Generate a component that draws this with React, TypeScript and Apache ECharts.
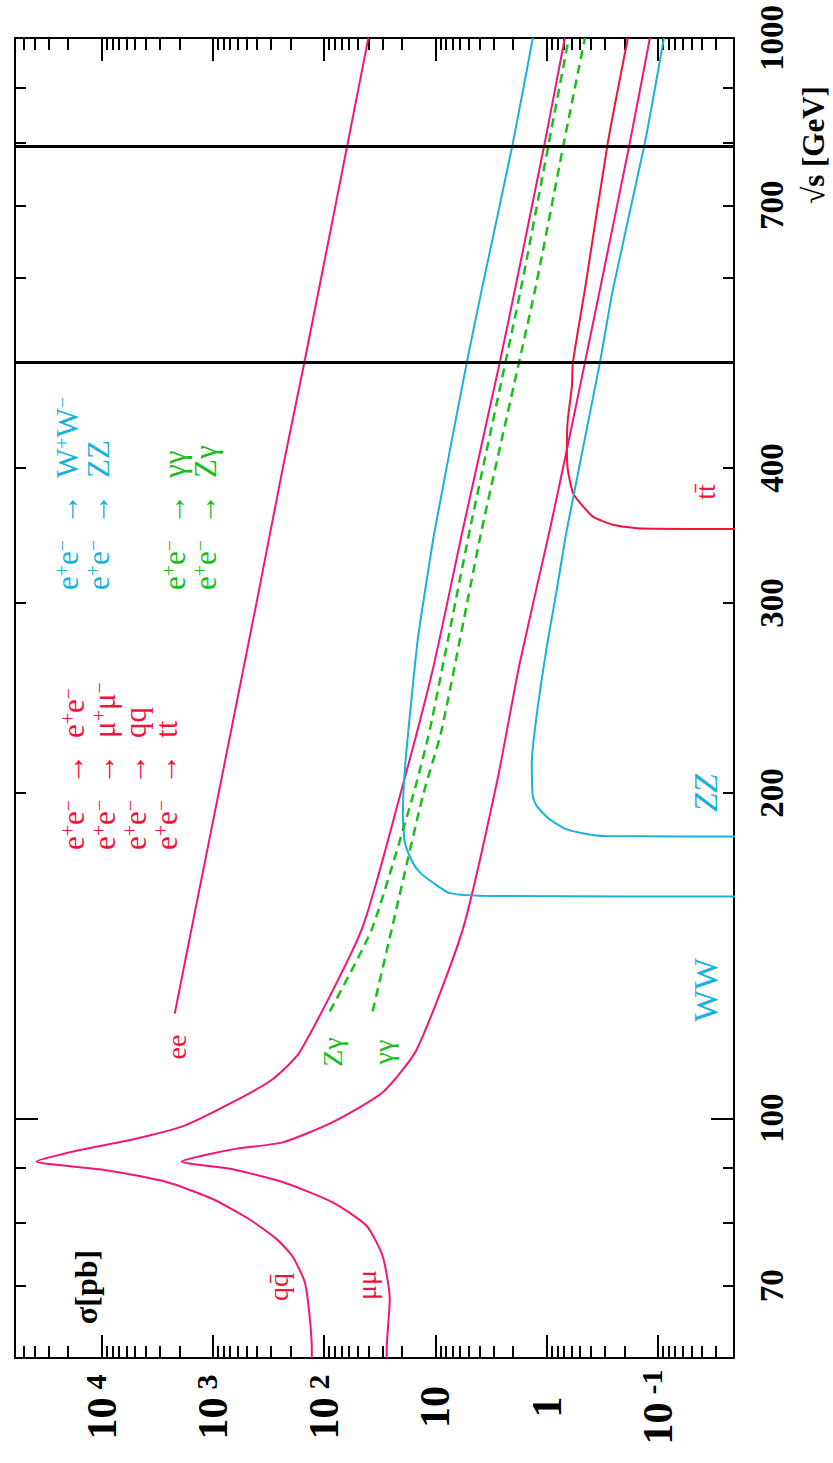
import React, { useEffect, useRef } from "react";
import * as echarts from "echarts";

// ---------- data: [√s (GeV), σ (pb)] ----------
const eeCurve: [number, number][] = [
  [125, 2200], [150, 1550], [200, 887], [300, 405], [400, 235], [500, 151], [700, 79], [1000, 40],
];
const qqCurve: [number, number][] = [
  [60, 129], [61.1, 129], [65.6, 135], [70.5, 149], [74.5, 192], [77.3, 267], [80.6, 467],
  [84.2, 1004], [87.3, 2603], [89.7, 10400], [91.2, 38400], [93.6, 14800], [95.6, 5260],
  [98.3, 1870], [103.5, 664], [108.7, 290], [115.1, 166], [149.6, 45.9], [198.6, 20.9],
  [260.3, 10.55], [350.6, 5.67], [500.6, 2.64], [597, 1.85], [799.6, 1.04], [1000, 0.686],
];
const mumuCurve: [number, number][] = [
  [60, 27.4], [61.1, 27.4], [68.0, 25.7], [74.5, 29.7], [79.5, 41.4], [83.6, 83.7], [87.3, 236],
  [89.7, 664], [91.2, 1908], [93.6, 664], [95.0, 236], [99.2, 83.7], [105.7, 29.7], [115.8, 14.7],
  [149.6, 5.67], [204.6, 2.8], [264.2, 1.74], [350.6, 0.936], [415.8, 0.658], [500.6, 0.453],
  [584.8, 0.332], [799.6, 0.179], [1000, 0.118],
];
const ttCurve: [number, number][] = [
  [351.2, 0.01], [351.6, 0.145], [354.4, 0.254], [360.6, 0.384], [371.5, 0.503], [379.5, 0.581],
  [398.5, 0.645], [418.4, 0.658], [443.2, 0.645], [475.6, 0.593], [500.6, 0.581], [584.8, 0.453],
  [799.6, 0.282], [1000, 0.186],
];
const wwCurve: [number, number][] = [
  [160.4, 0.01], [160.6, 3], [161.6, 7.4], [165.3, 10.55], [168.9, 13.8], [172.5, 15.97],
  [180, 18.8], [191.9, 19.6], [210.3, 18.8], [235.4, 17.0], [277.4, 14.4], [315.1, 11.95],
  [350.6, 10.1], [500.6, 5.22], [590.8, 3.75], [799.6, 2.01], [1000, 1.33],
];
const zzCurve: [number, number][] = [
  [182.3, 0.01], [182.5, 0.3], [183.4, 0.45], [185.1, 0.658], [189.1, 0.936], [194.4, 1.22],
  [198.6, 1.33], [213.4, 1.36], [237.4, 1.22], [273.3, 0.996], [308.6, 0.81], [350.6, 0.658],
  [500.6, 0.332], [584.8, 0.254], [799.6, 0.131], [1000, 0.0883],
];
const zgCurve: [number, number][] = [
  [125.6, 89.0], [149.6, 37.3], [198.6, 15.97], [229.1, 11.2], [350.6, 4.9], [584.8, 1.71],
  [799.6, 0.955], [1000, 0.632],
];
const ggCurve: [number, number][] = [
  [125.6, 36.6], [149.6, 24.7], [198.6, 13.0], [229.1, 8.76], [350.6, 3.83], [584.8, 1.27],
  [799.6, 0.70], [1000, 0.453],
];

// ---------- axes ----------
const sigmaRange = [0.0207, 60000]; // pb
const sqrtsRange = [60, 1000]; // GeV
const sigmaExponents = [4, 3, 2, 1, 0, -1];
const sqrtsLabels = [70, 100, 200, 300, 400, 700, 1000];
const sqrtsMajorTicks = [100, 1000];
const sqrtsMinorTicks = [70, 80, 90, 200, 300, 400, 500, 600, 700, 800, 900];
const energyLines = [500, 800];

const L = Math.log10;
const sigmaMinor: number[] = [];
for (let e = -2; e <= 4; e++) for (let k = 2; k <= 9; k++) {
  const v = k * Math.pow(10, e);
  if (v > sigmaRange[0] && v < sigmaRange[1]) sigmaMinor.push(L(v));
}

const PINK = "#f51478";
const RED = "#f0143c";
const CYAN = "#18b2dc";
const GREEN = "#16c016";
const SERIF = "'Liberation Serif', 'DejaVu Serif', serif";

const toXY = (d: [number, number][]) => d.map(([s, sig]) => [L(sig), L(s)]);

export default function App() {
  const ref = useRef<HTMLDivElement>(null);
  useEffect(() => {
    if (!ref.current) return;
    const chart = echarts.init(ref.current, undefined, { renderer: "svg" });

    const xBase = {
      type: "value" as const, min: L(sigmaRange[0]), max: L(sigmaRange[1]), inverse: true,
      splitLine: { show: false },
    };
    const yBase = {
      type: "value" as const, min: L(sqrtsRange[0]), max: L(sqrtsRange[1]),
      splitLine: { show: false },
    };
    const line = { show: true, onZero: false, lineStyle: { color: "#000", width: 2 } };
    const noLine = { show: false, onZero: false };
    const tick = (len: number, vals: number[]) => ({
      show: true, inside: true, length: len, customValues: vals, lineStyle: { color: "#000", width: 2 },
    });

    const xAxes = [
      {
        ...xBase, position: "bottom", axisLine: line, axisTick: tick(23, sigmaExponents),
        axisLabel: {
          show: true, customValues: sigmaExponents, rotate: 90, margin: 49,
          align: "center", verticalAlign: "middle",
          formatter: (v: number) => {
            const e = Math.round(v);
            if (e === 0) return "{b|1}";
            if (e === 1) return "{b|10}";
            return `{b|10}{s|${e}}`;
          },
          rich: {
            b: { fontFamily: SERIF, fontWeight: "bold", fontSize: 42, lineHeight: 42, color: "#000" },
            s: { fontFamily: SERIF, fontWeight: "bold", fontSize: 30, lineHeight: 8, verticalAlign: "top", color: "#000", padding: [0, 0, 0, 8] },
          },
        },
      },
      { ...xBase, position: "bottom", axisLine: noLine, axisLabel: { show: false }, axisTick: tick(12, sigmaMinor) },
      { ...xBase, position: "top", axisLine: line, axisLabel: { show: false }, axisTick: tick(23, sigmaExponents) },
      { ...xBase, position: "top", axisLine: noLine, axisLabel: { show: false }, axisTick: tick(12, sigmaMinor) },
    ];
    const yAxes = [
      {
        ...yBase, position: "right", axisLine: line, axisTick: tick(23, sqrtsMajorTicks.map(L)),
        axisLabel: {
          show: true, customValues: sqrtsLabels.map(L), rotate: 90, margin: 38,
          align: "center", verticalAlign: "middle",
          fontFamily: SERIF, fontWeight: "bold", fontSize: 33, color: "#000",
          formatter: (v: number) => String(Math.round(Math.pow(10, v))),
        },
      },
      { ...yBase, position: "right", axisLine: noLine, axisLabel: { show: false }, axisTick: tick(11, sqrtsMinorTicks.map(L)) },
      { ...yBase, position: "left", axisLine: line, axisLabel: { show: false }, axisTick: tick(23, sqrtsMajorTicks.map(L)) },
      { ...yBase, position: "left", axisLine: noLine, axisLabel: { show: false }, axisTick: tick(11, sqrtsMinorTicks.map(L)) },
    ];

    const curve = (name: string, data: [number, number][], color: string, dashed = false) => ({
      name, type: "line", xAxisIndex: 0, yAxisIndex: 0, data: toXY(data),
      showSymbol: false, symbol: "none", smooth: 0.2, clip: true,
      lineStyle: { color, width: dashed ? 2.5 : 2, type: dashed ? [9, 6] : "solid" },
      z: 3,
    });

    const sup = (t: string) => `{s|${t}}`;
    const n = (t: string) => `{n|${t}}`;
    const ep = n("e") + sup("+") + n("e") + sup("−") + n("  →  ");
    const richLeg = (color: string) => ({
      n: { fontFamily: SERIF, fontSize: 31, lineHeight: 31, fill: color },
      s: { fontFamily: SERIF, fontSize: 20, lineHeight: 8, verticalAlign: "top", fill: color },
    });

    const label = (text: string, x: number, y: number, color: string, size = 28, italic = false) => ({
      type: "text", x, y, rotation: Math.PI / 2, silent: true,
      style: { text, fill: color, font: `${italic ? "italic " : ""}${size}px ${SERIF}`, align: "center", verticalAlign: "middle" },
    });

    chart.setOption({
      animation: false,
      backgroundColor: "#ffffff",
      grid: { left: 15, right: 99, top: 38, bottom: 105, containLabel: false },
      xAxis: xAxes,
      yAxis: yAxes,
      series: [
        {
          type: "line", xAxisIndex: 0, yAxisIndex: 0, data: [], silent: true,
          markLine: {
            silent: true, symbol: "none", label: { show: false },
            lineStyle: { color: "#000", width: 3, type: "solid" },
            data: energyLines.map((e) => ({ yAxis: L(e) })),
          },
        },
        curve("ee", eeCurve, PINK),
        curve("qq", qqCurve, PINK),
        curve("mumu", mumuCurve, PINK),
        curve("tt", ttCurve, RED),
        curve("WW", wwCurve, CYAN),
        curve("ZZ", zzCurve, CYAN),
        curve("Zg", zgCurve, GREEN, true),
        curve("gg", ggCurve, GREEN, true),
      ],
      graphic: [
        {
          type: "text", x: 813, y: 145, rotation: Math.PI / 2, silent: true,
          style: { text: "√s [GeV]", fill: "#000", font: `bold 31px ${SERIF}`, align: "center", verticalAlign: "middle" },
        },
        {
          type: "text", x: 86, y: 1287, rotation: Math.PI / 2, silent: true,
          style: { text: "σ[pb]", fill: "#000", font: `bold 32px ${SERIF}`, align: "center", verticalAlign: "middle" },
        },
        label("ee", 176, 1047, RED),
        label("qq\u0304", 278, 1287, RED),
        label("μμ", 366, 1285, RED),
        label("tt\u0304", 705, 492, RED),
        label("Zγ", 332, 1052, GREEN),
        label("γγ", 383, 1052, GREEN),
        label("WW", 705, 990, CYAN, 34),
        label("ZZ", 705, 793, CYAN, 34, true),
        {
          type: "text", x: 120, y: 850, rotation: Math.PI / 2, silent: true,
          style: {
            text: [
              ep + n("e") + sup("+") + n("e") + sup("−"),
              ep + n("μ") + sup("+") + n("μ") + sup("−"),
              ep + n("qq"),
              ep + n("tt"),
            ].join("\n"),
            rich: richLeg(RED), align: "left", verticalAlign: "middle",
          },
        },
        {
          type: "text", x: 83, y: 590, rotation: Math.PI / 2, silent: true,
          style: {
            text: [ep + n("W") + sup("+") + n("W") + sup("−"), ep + n("ZZ")].join("\n"),
            rich: richLeg(CYAN), align: "left", verticalAlign: "middle",
          },
        },
        {
          type: "text", x: 190, y: 590, rotation: Math.PI / 2, silent: true,
          style: {
            text: [ep + n("γγ"), ep + n("Zγ")].join("\n"),
            rich: richLeg(GREEN), align: "left", verticalAlign: "middle",
          },
        },
      ],
    });
    return () => chart.dispose();
  }, []);
  return <div ref={ref} style={{ position: "absolute", left: 0, top: 0, width: 833, height: 1463 }} />;
}
